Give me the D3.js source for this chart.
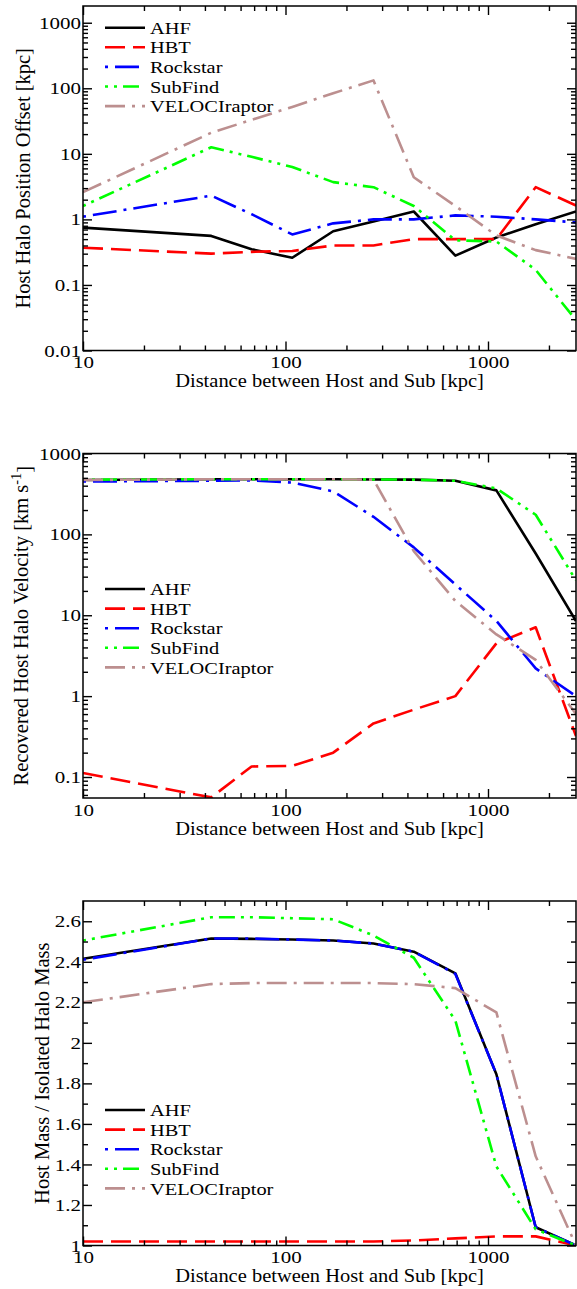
<!DOCTYPE html>
<html><head><meta charset="utf-8"><title>Host halo recovery</title>
<script src="https://cdn.jsdelivr.net/npm/d3@7/dist/d3.min.js"></script>
<style>
html,body{margin:0;padding:0;background:#fff;}
svg{display:block;}
</style></head><body>
<svg id="chart" width="577" height="1289"></svg>
<script>
// ---------- data ----------
const distances = [10, 43, 68, 108, 172, 272, 430, 690, 1100, 1720, 2720];
const finders = ["AHF", "HBT", "Rockstar", "SubFind", "VELOCIraptor"];
const xTicks = [10, 100, 1000];
const xTickLabels = ["10", "100", "1000"];

const offsetAHF          = [0.75, 0.56, 0.35, 0.26, 0.66, 0.93, 1.32, 0.28, 0.53, 0.84, 1.32];
const offsetHBT          = [0.37, 0.30, 0.32, 0.33, 0.40, 0.40, 0.50, 0.50, 0.50, 3.1, 1.63];
const offsetRockstar     = [1.1, 2.3, 1.2, 0.59, 0.87, 1.0, 1.0, 1.15, 1.1, 1.0, 0.9];
const offsetSubFind      = [1.6, 12.6, 9, 6.3, 3.7, 3.1, 1.6, 0.48, 0.46, 0.17, 0.029];
const offsetVELOCIraptor = [2.6, 21, 33, 52, 84, 132, 4.4, 1.6, 0.57, 0.34, 0.25];
const offsetTicks = [0.01, 0.1, 1, 10, 100, 1000];
const offsetTickLabels = ["0.01", "0.1", "1", "10", "100", "1000"];

const velocityAHF          = [470, 480, 480, 480, 480, 478, 475, 460, 350, 58, 8.5];
const velocityHBT          = [0.112, 0.056, 0.135, 0.137, 0.2, 0.46, 0.68, 1.0, 4.5, 7.1, 0.32];
const velocityRockstar     = [450, 460, 465, 437, 340, 165, 69, 24, 8.5, 2.2, 1.0];
const velocitySubFind      = [475, 480, 480, 480, 480, 478, 475, 460, 370, 175, 27];
const velocityVELOCIraptor = [470, 480, 480, 480, 480, 475, 62, 15, 5.8, 2.8, 0.6];
const velocityTicks = [0.1, 1, 10, 100, 1000];
const velocityTickLabels = ["0.1", "1", "10", "100", "1000"];

const massAHF          = [2.415, 2.515, 2.513, 2.51, 2.505, 2.49, 2.45, 2.343, 1.845, 1.09, 1.0];
const massHBT          = [1.02, 1.02, 1.02, 1.02, 1.02, 1.02, 1.025, 1.035, 1.045, 1.045, 1.0];
const massRockstar     = [2.41, 2.515, 2.515, 2.51, 2.505, 2.49, 2.45, 2.34, 1.845, 1.09, 1.0];
const massSubFind      = [2.505, 2.62, 2.62, 2.615, 2.61, 2.53, 2.42, 2.11, 1.39, 1.08, 1.0];
const massVELOCIraptor = [2.2, 2.29, 2.295, 2.295, 2.295, 2.295, 2.29, 2.27, 2.15, 1.44, 1.0];
const massTicks = [1, 1.2, 1.4, 1.6, 1.8, 2, 2.2, 2.4, 2.6];
const massTickLabels = ["1", "1.2", "1.4", "1.6", "1.8", "2", "2.2", "2.4", "2.6"];

// ---------- styles ----------
const FONT = '"Liberation Serif","Times New Roman",Times,serif';
const seriesStyle = {
  AHF:          {color: "#000000", dash: null},
  HBT:          {color: "#ff0000", dash: "20,8"},
  Rockstar:     {color: "#0000ff", dash: "3,7,24,7"},
  SubFind:      {color: "#00ff00", dash: "3,6,3,6,16,6"},
  VELOCIraptor: {color: "#bc8f8f", dash: "20,7,3,7"}
};
const xLeft = 83, xRight = 576, panelH = 344.5;
const TICK_FS = 17.5, TICK_SX = 1.2, LEG_FS = 17, LEG_SX = 1.2, XT_FS = 19.5, XT_SX = 1.05, YT_FS = 20.5;

const svg = d3.select("#chart");
const x = d3.scaleLog().domain([10, 2720]).range([xLeft, xRight]);

function stretch(sel, sx) {
  sel.each(function () {
    const t = d3.select(this);
    const tx = +t.attr("x") || 0;
    t.attr("transform", `translate(${tx * (1 - sx)},0) scale(${sx},1)`);
  });
}
function notMajor(majors) {
  return v => !majors.some(m => Math.abs(m - v) / m < 1e-6);
}

const panels = [
  {top: 6, series: [offsetAHF, offsetHBT, offsetRockstar, offsetSubFind, offsetVELOCIraptor],
   y: d3.scaleLog().domain([0.01, 1800]), ticks: offsetTicks, labels: offsetTickLabels,
   legendTop: 27.7, titleX: 30, title: ["Host Halo Position Offset [kpc]"]},
  {top: 453.5, series: [velocityAHF, velocityHBT, velocityRockstar, velocitySubFind, velocityVELOCIraptor],
   y: d3.scaleLog().domain([0.055, 1000]), ticks: velocityTicks, labels: velocityTickLabels,
   legendTop: 589, titleX: 28, title: ["Recovered Host Halo Velocity [km s", "-1", "]"]},
  {top: 901, series: [massAHF, massHBT, massRockstar, massSubFind, massVELOCIraptor],
   y: d3.scaleLinear().domain([1, 2.7]), ticks: massTicks, labels: massTickLabels,
   legendTop: 1110, titleX: 49, title: ["Host Mass / Isolated Halo Mass"], linear: true}
];

panels.forEach((p, pi) => {
  const top = p.top, bottom = p.top + panelH;
  const y = p.y.range([bottom, top]);
  const g = svg.append("g");

  // clip
  const cid = "clip" + pi;
  svg.append("clipPath").attr("id", cid).append("rect")
    .attr("x", xLeft).attr("y", top).attr("width", xRight - xLeft).attr("height", bottom - top);

  // lines
  const line = d3.line().x((d, i) => x(distances[i])).y(d => y(d));
  const lg = g.append("g").attr("clip-path", `url(#${cid})`);
  p.series.forEach((vals, si) => {
    const st = seriesStyle[finders[si]];
    lg.append("path").datum(vals).attr("d", line)
      .attr("fill", "none").attr("stroke", st.color).attr("stroke-width", 2.6)
      .attr("stroke-linejoin", "round")
      .attr("stroke-dasharray", st.dash);
  });

  // minor tick values
  const xMinor = x.ticks().filter(notMajor(xTicks));
  const yMinor = (p.linear ? y.ticks(20) : y.ticks()).filter(notMajor(p.ticks))
      .filter(v => v > y.domain()[0] && v < y.domain()[1]);

  const styleAxis = sel => {
    sel.select(".domain").remove();
    sel.selectAll("line").attr("stroke", "#000").attr("stroke-width", 1.4);
    sel.selectAll("text").attr("font-family", FONT).attr("font-size", TICK_FS).attr("fill", "#000");
  };

  g.append("g").attr("transform", `translate(0,${bottom})`)
    .call(d3.axisBottom(x).tickValues(xTicks).tickFormat((d, i) => xTickLabels[i]).tickSize(-9).tickPadding(5.5))
    .call(styleAxis).call(s => stretch(s.selectAll("text"), TICK_SX));
  g.append("g").attr("transform", `translate(0,${bottom})`)
    .call(d3.axisBottom(x).tickValues(xMinor).tickFormat("").tickSize(-5)).call(styleAxis);
  g.append("g").attr("transform", `translate(0,${top})`)
    .call(d3.axisTop(x).tickValues(xTicks).tickFormat("").tickSize(-9)).call(styleAxis);
  g.append("g").attr("transform", `translate(0,${top})`)
    .call(d3.axisTop(x).tickValues(xMinor).tickFormat("").tickSize(-5)).call(styleAxis);

  g.append("g").attr("transform", `translate(${xLeft},0)`)
    .call(d3.axisLeft(y).tickValues(p.ticks).tickFormat((d, i) => p.labels[i]).tickSize(-9).tickPadding(2))
    .call(styleAxis).call(s => stretch(s.selectAll("text"), TICK_SX));
  g.append("g").attr("transform", `translate(${xLeft},0)`)
    .call(d3.axisLeft(y).tickValues(yMinor).tickFormat("").tickSize(-5)).call(styleAxis);
  g.append("g").attr("transform", `translate(${xRight},0)`)
    .call(d3.axisRight(y).tickValues(p.ticks).tickFormat("").tickSize(-9)).call(styleAxis);
  g.append("g").attr("transform", `translate(${xRight},0)`)
    .call(d3.axisRight(y).tickValues(yMinor).tickFormat("").tickSize(-5)).call(styleAxis);

  // frame
  g.append("rect").attr("x", xLeft).attr("y", top).attr("width", xRight - xLeft).attr("height", bottom - top)
    .attr("fill", "none").attr("stroke", "#000").attr("stroke-width", 1.5);

  // legend
  finders.forEach((f, i) => {
    const st = seriesStyle[f];
    const yy = p.legendTop + i * 19.6;
    g.append("line").attr("x1", 105).attr("x2", 145).attr("y1", yy).attr("y2", yy)
      .attr("stroke", st.color).attr("stroke-width", 2.6).attr("stroke-dasharray", st.dash);
    const t = g.append("text").attr("x", 150).attr("y", yy).attr("dy", "0.36em")
      .attr("font-family", FONT).attr("font-size", LEG_FS).attr("fill", "#000").text(f);
    stretch(t, LEG_SX);
  });

  // x title
  const xt = g.append("text").attr("x", (xLeft + xRight) / 2).attr("y", bottom + 37)
    .attr("text-anchor", "middle").attr("font-family", FONT).attr("font-size", XT_FS).attr("fill", "#000")
    .text("Distance between Host and Sub [kpc]");
  stretch(xt, XT_SX);

  // y title
  const yt = g.append("text")
    .attr("transform", `translate(${p.titleX},${(top + bottom) / 2}) rotate(-90)`)
    .attr("text-anchor", "middle").attr("font-family", FONT).attr("font-size", YT_FS).attr("fill", "#000");
  if (p.title.length === 1) {
    yt.text(p.title[0]);
  } else {
    yt.append("tspan").text(p.title[0]);
    yt.append("tspan").attr("dy", "-0.5em").attr("font-size", YT_FS * 0.7).text(p.title[1]);
    yt.append("tspan").attr("dy", "0.5em").text(p.title[2]);
  }
});
</script>
</body></html>
